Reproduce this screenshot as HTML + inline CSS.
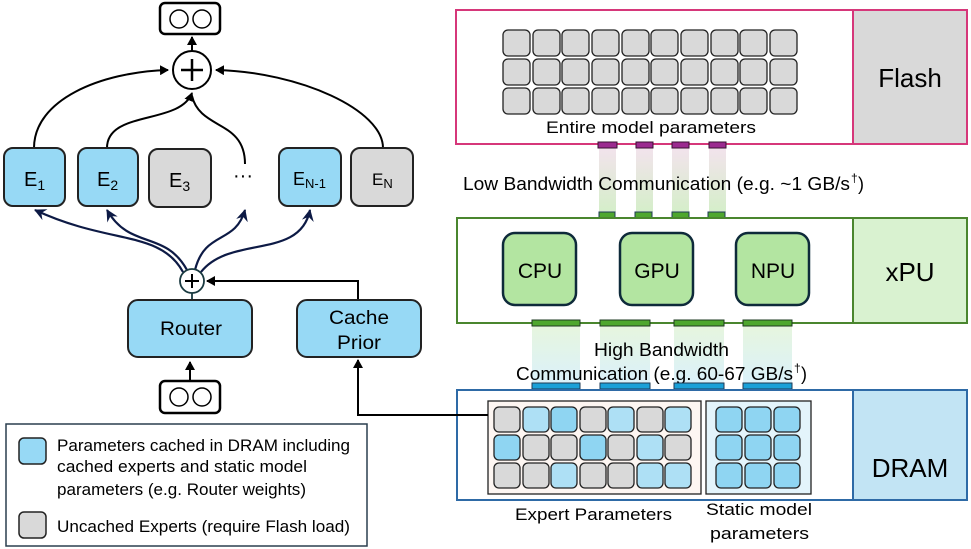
<!DOCTYPE html>
<html><head><meta charset="utf-8"><style>
html,body{margin:0;padding:0;background:#fff}
svg{display:block;font-family:"Liberation Sans","DejaVu Sans",sans-serif}
</style></head><body>
<svg width="971" height="549" viewBox="0 0 971 549" xmlns="http://www.w3.org/2000/svg">
<defs>
<marker id="ab" markerWidth="10" markerHeight="10" refX="8" refY="5" orient="auto" markerUnits="userSpaceOnUse"><path d="M0,0 L9,5 L0,10 z" fill="#000"/></marker>
<marker id="an" markerWidth="14" markerHeight="14" refX="11" refY="7" orient="auto" markerUnits="userSpaceOnUse"><path d="M0,1 L12,7 L0,13 L4,7 z" fill="#0d1a45"/></marker>
<rect id="g" width="27" height="26" rx="5" fill="#d9d9d9" stroke="#222" stroke-width="1.3"/>
<rect id="lb" width="26" height="25" rx="5" fill="#aee0f5" stroke="#222" stroke-width="1.3"/>
<rect id="bb" width="26" height="25" rx="5" fill="#8fd5f2" stroke="#222" stroke-width="1.3"/>
<rect id="gg" width="26" height="25" rx="5" fill="#d9d9d9" stroke="#222" stroke-width="1.3"/>
<linearGradient id="lg1" x1="0" y1="0" x2="0" y2="1"><stop offset="0" stop-color="#ead0e0"/><stop offset="1" stop-color="#b9e3a6"/></linearGradient>
<linearGradient id="lg2" x1="0" y1="0" x2="0" y2="1"><stop offset="0" stop-color="#d6efc8"/><stop offset="1" stop-color="#c3e8f7"/></linearGradient>
</defs>

<!-- Flash -->
<rect x="456" y="10" width="511" height="134" fill="#fff" stroke="#d6377a" stroke-width="2"/>
<rect x="853" y="10" width="114" height="134" fill="#d9d9d9" stroke="#d6377a" stroke-width="2"/>
<text x="910" y="87" font-size="26" text-anchor="middle">Flash</text>
<g>
<use href="#g" x="503" y="30"/><use href="#g" x="533" y="30"/><use href="#g" x="562" y="30"/><use href="#g" x="592" y="30"/><use href="#g" x="622" y="30"/><use href="#g" x="651" y="30"/><use href="#g" x="681" y="30"/><use href="#g" x="711" y="30"/><use href="#g" x="740" y="30"/><use href="#g" x="770" y="30"/>
<use href="#g" x="503" y="59"/><use href="#g" x="533" y="59"/><use href="#g" x="562" y="59"/><use href="#g" x="592" y="59"/><use href="#g" x="622" y="59"/><use href="#g" x="651" y="59"/><use href="#g" x="681" y="59"/><use href="#g" x="711" y="59"/><use href="#g" x="740" y="59"/><use href="#g" x="770" y="59"/>
<use href="#g" x="503" y="88"/><use href="#g" x="533" y="88"/><use href="#g" x="562" y="88"/><use href="#g" x="592" y="88"/><use href="#g" x="622" y="88"/><use href="#g" x="651" y="88"/><use href="#g" x="681" y="88"/><use href="#g" x="711" y="88"/><use href="#g" x="740" y="88"/><use href="#g" x="770" y="88"/>
</g>
<text x="546" y="133" font-size="17" textLength="210" lengthAdjust="spacingAndGlyphs">Entire model parameters</text>

<!-- low bandwidth columns -->
<rect x="599" y="148" width="17" height="64" fill="url(#lg1)" opacity="0.6"/>
<rect x="636" y="148" width="17" height="64" fill="url(#lg1)" opacity="0.6"/>
<rect x="672" y="148" width="17" height="64" fill="url(#lg1)" opacity="0.6"/>
<rect x="709" y="148" width="17" height="64" fill="url(#lg1)" opacity="0.6"/>
<g fill="#9b2a8f" stroke="#3a1030" stroke-width="1">
<rect x="598" y="142" width="19" height="6"/><rect x="636" y="142" width="17" height="6"/><rect x="672" y="142" width="17" height="6"/><rect x="709" y="142" width="17" height="6"/>
</g>
<text x="463" y="190" font-size="18" textLength="387" lengthAdjust="spacingAndGlyphs">Low Bandwidth Communication (e.g. ~1 GB/s</text>
<text x="851" y="182" font-size="12">†</text>
<text x="858" y="190" font-size="18">)</text>
<g fill="#4ea72e" stroke="#1e3a55" stroke-width="1">
<rect x="599" y="212" width="16" height="6"/><rect x="635" y="212" width="17" height="6"/><rect x="672" y="212" width="17" height="6"/><rect x="708" y="212" width="17" height="6"/>
</g>

<!-- xPU -->
<rect x="457" y="218" width="510" height="105" fill="#fff" stroke="#4a862e" stroke-width="2"/>
<rect x="853" y="218" width="114" height="105" fill="#d9f2d0" stroke="#4a862e" stroke-width="2"/>
<text x="910" y="281" font-size="26" text-anchor="middle">xPU</text>
<g fill="#b3e5a1" stroke="#0e2a3a" stroke-width="2.5">
<rect x="503" y="233" width="73" height="72" rx="12"/>
<rect x="620" y="233" width="73" height="72" rx="12"/>
<rect x="736" y="233" width="73" height="72" rx="12"/>
</g>
<g font-size="21" text-anchor="middle">
<text x="540" y="278">CPU</text><text x="657" y="278">GPU</text><text x="773" y="278">NPU</text>
</g>

<!-- high bandwidth columns -->
<rect x="532" y="326" width="48" height="57" fill="url(#lg2)" opacity="0.6"/>
<rect x="600" y="326" width="50" height="57" fill="url(#lg2)" opacity="0.6"/>
<rect x="674" y="326" width="50" height="57" fill="url(#lg2)" opacity="0.6"/>
<rect x="743" y="326" width="49" height="57" fill="url(#lg2)" opacity="0.6"/>
<g fill="#4ea72e" stroke="#1e3a20" stroke-width="1">
<rect x="532" y="320" width="48" height="6"/><rect x="600" y="320" width="50" height="6"/><rect x="674" y="320" width="50" height="6"/><rect x="743" y="320" width="49" height="6"/>
</g>
<text x="594" y="356" font-size="18" textLength="135" lengthAdjust="spacingAndGlyphs">High Bandwidth</text>
<text x="516" y="380" font-size="18" textLength="277" lengthAdjust="spacingAndGlyphs">Communication (e.g. 60-67 GB/s</text>
<text x="794" y="372" font-size="12">†</text>
<text x="801" y="380" font-size="18">)</text>
<g fill="#1aa0d8" stroke="#1e3a55" stroke-width="1">
<rect x="532" y="383" width="48" height="6"/><rect x="600" y="383" width="50" height="6"/><rect x="674" y="383" width="50" height="6"/><rect x="743" y="383" width="49" height="6"/>
</g>

<!-- DRAM -->
<rect x="457" y="390" width="510" height="110" fill="#fff" stroke="#2e6aa6" stroke-width="2"/>
<rect x="853" y="390" width="114" height="110" fill="#c2e4f4" stroke="#2e6aa6" stroke-width="2"/>
<text x="910" y="477" font-size="26" text-anchor="middle">DRAM</text>
<rect x="488" y="401" width="213" height="93" fill="#fdf6f2" stroke="#222" stroke-width="1.3"/>
<rect x="706" y="401" width="105" height="93" fill="#e3f4fb" stroke="#222" stroke-width="1.3"/>
<g>
<use href="#gg" x="494" y="407"/><use href="#lb" x="523" y="407"/><use href="#bb" x="551" y="407"/><use href="#gg" x="580" y="407"/><use href="#lb" x="608" y="407"/><use href="#gg" x="637" y="407"/><use href="#lb" x="665" y="407"/>
<use href="#bb" x="494" y="435"/><use href="#gg" x="523" y="435"/><use href="#gg" x="551" y="435"/><use href="#bb" x="580" y="435"/><use href="#gg" x="608" y="435"/><use href="#lb" x="637" y="435"/><use href="#gg" x="665" y="435"/>
<use href="#gg" x="494" y="463"/><use href="#gg" x="523" y="463"/><use href="#lb" x="551" y="463"/><use href="#gg" x="580" y="463"/><use href="#gg" x="608" y="463"/><use href="#lb" x="637" y="463"/><use href="#lb" x="665" y="463"/>
<use href="#bb" x="716" y="407"/><use href="#bb" x="745" y="407"/><use href="#bb" x="774" y="407"/>
<use href="#bb" x="716" y="435"/><use href="#bb" x="745" y="435"/><use href="#bb" x="774" y="435"/>
<use href="#bb" x="716" y="463"/><use href="#bb" x="745" y="463"/><use href="#bb" x="774" y="463"/>
</g>
<text x="515" y="520" font-size="17" textLength="157" lengthAdjust="spacingAndGlyphs">Expert Parameters</text>
<text x="706" y="515" font-size="17" textLength="106" lengthAdjust="spacingAndGlyphs">Static model</text>
<text x="710" y="539" font-size="17" textLength="99" lengthAdjust="spacingAndGlyphs">parameters</text>

<!-- left diagram -->
<rect x="160" y="3" width="60" height="31" rx="5" fill="#fff" stroke="#000" stroke-width="2.5"/>
<circle cx="179" cy="19" r="9" fill="#fff" stroke="#000" stroke-width="1.5"/>
<circle cx="202" cy="19" r="9" fill="#fff" stroke="#000" stroke-width="1.5"/>
<line x1="192" y1="51" x2="192" y2="37" stroke="#000" stroke-width="2" marker-end="url(#ab)"/>
<circle cx="192" cy="70" r="19" fill="#fff" stroke="#000" stroke-width="2"/>
<path d="M181,70 H203 M192,59 V81" stroke="#000" stroke-width="2.5"/>

<g fill="none" stroke="#000" stroke-width="2">
<path d="M34,148 C34,100 100,72 168,70" marker-end="url(#ab)"/>
<path d="M107,148 C107,110 180,125 192,93" marker-end="url(#ab)"/>
<path d="M245,164 C245,120 200,130 192,96"/>
<path d="M383,148 C383,110 300,72 216,70" marker-end="url(#ab)"/>
</g>

<g stroke="#222" stroke-width="2">
<rect x="4" y="148" width="61" height="58" rx="9" fill="#97d9f5"/>
<rect x="78" y="148" width="60" height="58" rx="9" fill="#97d9f5"/>
<rect x="149" y="149" width="62" height="58" rx="9" fill="#d9d9d9"/>
<rect x="279" y="148" width="62" height="58" rx="9" fill="#97d9f5"/>
<rect x="351" y="148" width="62" height="58" rx="9" fill="#d9d9d9"/>
</g>
<g font-size="20" fill="#000">
<text x="24" y="186">E<tspan font-size="14" dy="4">1</tspan></text>
<text x="97" y="186">E<tspan font-size="14" dy="4">2</tspan></text>
<text x="169" y="187">E<tspan font-size="14" dy="4">3</tspan></text>
<text x="293" y="185" font-size="18">E<tspan font-size="13" dy="3">N-1</tspan></text>
<text x="372" y="185" font-size="17">E<tspan font-size="13" dy="3">N</tspan></text>
<text x="243" y="182" font-size="20" text-anchor="middle">···</text>
</g>

<g fill="none" stroke="#0d1a45" stroke-width="2.2">
<path d="M183,272 C160,230 110,245 35,210" marker-end="url(#an)"/>
<path d="M187,270 C165,230 130,250 107,210" marker-end="url(#an)"/>
<path d="M195,270 C205,230 235,245 245,210" marker-end="url(#an)"/>
<path d="M201,272 C230,235 300,260 310,210" marker-end="url(#an)"/>
</g>
<circle cx="192" cy="281" r="12" fill="#fff" stroke="#1a3a40" stroke-width="1.8"/>
<path d="M185,281 H199 M192,274 V288" stroke="#000" stroke-width="2"/>
<line x1="192" y1="293" x2="192" y2="300" stroke="#1a3a40" stroke-width="1.8"/>

<path d="M358,300 V281 H207" fill="none" stroke="#000" stroke-width="2" marker-end="url(#ab)"/>
<path d="M488,415 H358 V360" fill="none" stroke="#000" stroke-width="2" marker-end="url(#ab)"/>

<rect x="128" y="300" width="124" height="57" rx="10" fill="#97d9f5" stroke="#222" stroke-width="2"/>
<text x="160" y="335" font-size="19" textLength="62" lengthAdjust="spacingAndGlyphs">Router</text>
<rect x="297" y="300" width="124" height="57" rx="10" fill="#97d9f5" stroke="#222" stroke-width="2"/>
<text x="329" y="324" font-size="19" textLength="60" lengthAdjust="spacingAndGlyphs">Cache</text>
<text x="337" y="349" font-size="19" textLength="44" lengthAdjust="spacingAndGlyphs">Prior</text>

<line x1="190" y1="381" x2="190" y2="362" stroke="#000" stroke-width="2" marker-end="url(#ab)"/>
<rect x="160" y="381" width="60" height="32" rx="5" fill="#fff" stroke="#000" stroke-width="2.5"/>
<circle cx="179" cy="397" r="9" fill="#fff" stroke="#000" stroke-width="1.5"/>
<circle cx="202" cy="397" r="9" fill="#fff" stroke="#000" stroke-width="1.5"/>

<!-- legend -->
<rect x="6" y="424" width="361" height="122" fill="#fff" stroke="#2a3f4f" stroke-width="1.5"/>
<rect x="19" y="438" width="27" height="26" rx="5" fill="#97d9f5" stroke="#222" stroke-width="1.5"/>
<rect x="19" y="512" width="27" height="26" rx="5" fill="#d9d9d9" stroke="#222" stroke-width="1.5"/>
<g font-size="17">
<text x="57" y="451" textLength="293" lengthAdjust="spacingAndGlyphs">Parameters cached in DRAM including</text>
<text x="57" y="472" textLength="250" lengthAdjust="spacingAndGlyphs">cached experts and static model</text>
<text x="57" y="495" textLength="249" lengthAdjust="spacingAndGlyphs">parameters (e.g. Router weights)</text>
<text x="57" y="532" textLength="293" lengthAdjust="spacingAndGlyphs">Uncached Experts (require Flash load)</text>
</g>
</svg>
</body></html>
